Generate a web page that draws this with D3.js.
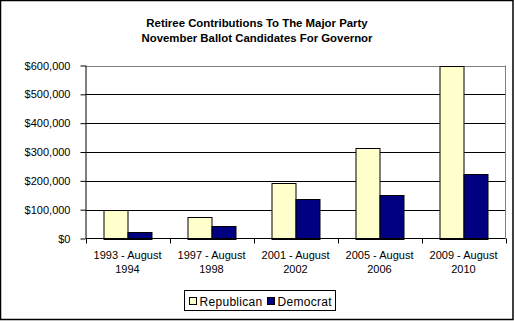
<!DOCTYPE html>
<html>
<head>
<meta charset="utf-8">
<script src="https://cdn.jsdelivr.net/npm/d3@7"></script>
<style>
  body { margin: 0; background: #fff; }
  svg { display: block; font-family: Arial, "Liberation Sans", sans-serif; }
</style>
</head>
<body>
<div id="chart"></div>
<script>
// values
var periods = ["1993 - August|1994", "1997 - August|1998", "2001 - August|2002",
               "2005 - August|2006", "2009 - August|2010"];
var series = ["Republican", "Democrat"];
var republican = [98000, 75000, 191000, 314000, 600000];
var democrat = [24000, 42000, 138000, 152000, 223000];
var yTicks = [0, 100000, 200000, 300000, 400000, 500000, 600000];
var titleLines = ["Retiree Contributions To The Major Party",
                  "November Ballot Candidates For Governor"];

var width = 515,
    height = 321,
    colors = { Republican: "#ffffcc", Democrat: "#000080" },
    plot = { left: 85.5, right: 505.5, top: 65.5, bottom: 238.5 };

var rows = periods.map(function(p, i) {
  return { period: p, Republican: republican[i], Democrat: democrat[i] };
});

var svg = d3.select("#chart").append("svg")
    .attr("width", width)
    .attr("height", height);

svg.append("rect")
    .attr("x", 0.5).attr("y", 0.5)
    .attr("width", 512.5).attr("height", 319)
    .attr("fill", "#fff")
    .attr("stroke", "#000")
    .attr("stroke-width", 1.5);

svg.append("g").selectAll("text")
    .data(titleLines)
    .enter().append("text")
    .attr("x", 257)
    .attr("y", function(d, i) { return 27 + i * 15; })
    .attr("text-anchor", "middle")
    .attr("font-size", "11.4px")
    .attr("font-weight", "bold")
    .text(function(d) { return d; });

var x0 = d3.scaleBand()
    .domain(periods)
    .range([plot.left, plot.right]);

var x1 = d3.scaleBand()
    .domain(series)
    .range([0, x0.bandwidth()])
    .paddingOuter(0.75)
    .paddingInner(0);

var y = d3.scaleLinear()
    .domain([0, 600000])
    .range([plot.bottom, plot.top]);

// grid lines
svg.append("g").selectAll("line")
    .data(yTicks.slice(1))
    .enter().append("line")
    .attr("x1", plot.left).attr("x2", plot.right)
    .attr("y1", function(d) { return Math.round(y(d)) + 0.5; })
    .attr("y2", function(d) { return Math.round(y(d)) + 0.5; })
    .attr("stroke", function(d) { return d === 600000 ? "#808080" : "#000"; });

svg.append("line")
    .attr("x1", plot.right).attr("x2", plot.right)
    .attr("y1", plot.top).attr("y2", plot.bottom)
    .attr("stroke", "#808080");

// bars
svg.append("g").selectAll("g")
    .data(rows)
    .enter().append("g")
    .attr("transform", function(d) { return "translate(" + x0(d.period) + ",0)"; })
    .selectAll("rect")
    .data(function(d) { return series.map(function(s) { return { key: s, value: d[s] }; }); })
    .enter().append("rect")
    .attr("x", function(d) { return Math.round(x1(d.key)) + 0.5; })
    .attr("y", function(d) { return Math.round(y(d.value)) + 0.5; })
    .attr("width", Math.round(x1.bandwidth()))
    .attr("height", function(d) { return Math.round(y(0)) - Math.round(y(d.value)); })
    .attr("fill", function(d) { return colors[d.key]; })
    .attr("stroke", "#000");

// y axis
var yAxis = svg.append("g")
    .attr("transform", "translate(" + plot.left + ",0)")
    .call(d3.axisLeft(y)
      .tickValues(yTicks)
      .tickSize(5)
      .tickPadding(10)
      .tickFormat(function(d) { return "$" + d3.format(",")(d); }));
yAxis.select(".domain").attr("stroke", "#000").attr("d", "M0.5," + plot.top + "V" + plot.bottom);
yAxis.selectAll(".tick line").attr("stroke", "#000").attr("x2", -5);
yAxis.selectAll("text").attr("font-size", "11px").attr("font-family", null).attr("fill", "#000");

// x axis
var boundaries = periods.map(function(p) { return x0(p); }).concat([plot.right]);
var xAxis = svg.append("g")
    .attr("transform", "translate(0," + plot.bottom + ")");
xAxis.append("line")
    .attr("x1", plot.left).attr("x2", plot.right)
    .attr("stroke", "#000");
xAxis.selectAll(".bt")
    .data(boundaries)
    .enter().append("line")
    .attr("class", "bt")
    .attr("x1", function(d) { return Math.round(d) + 0.5; })
    .attr("x2", function(d) { return Math.round(d) + 0.5; })
    .attr("y1", 0).attr("y2", 5)
    .attr("stroke", "#000");
xAxis.selectAll("text")
    .data(periods)
    .enter().append("text")
    .attr("x", function(d) { return x0(d) + x0.bandwidth() / 2; })
    .attr("y", 20)
    .attr("text-anchor", "middle")
    .attr("font-size", "11px")
    .each(function(d) {
      var parts = d.split("|");
      d3.select(this).selectAll("tspan")
        .data(parts)
        .enter().append("tspan")
        .attr("x", x0(d) + x0.bandwidth() / 2)
        .attr("dy", function(t, i) { return i ? 14 : 0; })
        .text(function(t) { return t; });
    });

// legend
var legend = svg.append("g").attr("transform", "translate(184.5,290.5)");
legend.append("rect")
    .attr("width", 151).attr("height", 20)
    .attr("fill", "#fff").attr("stroke", "#000");
var item = legend.selectAll(".item")
    .data(series)
    .enter().append("g")
    .attr("class", "item")
    .attr("transform", function(d, i) { return "translate(" + (i ? 83 : 5) + ",0)"; });
item.append("rect")
    .attr("x", 0).attr("y", 7)
    .attr("width", 7).attr("height", 7)
    .attr("fill", function(d) { return colors[d]; })
    .attr("stroke", "#000");
item.append("text")
    .attr("x", 10).attr("y", 15)
    .attr("font-size", "12px")
    .attr("letter-spacing", "0.3px")
    .text(function(d) { return d; });
</script>
</body>
</html>
